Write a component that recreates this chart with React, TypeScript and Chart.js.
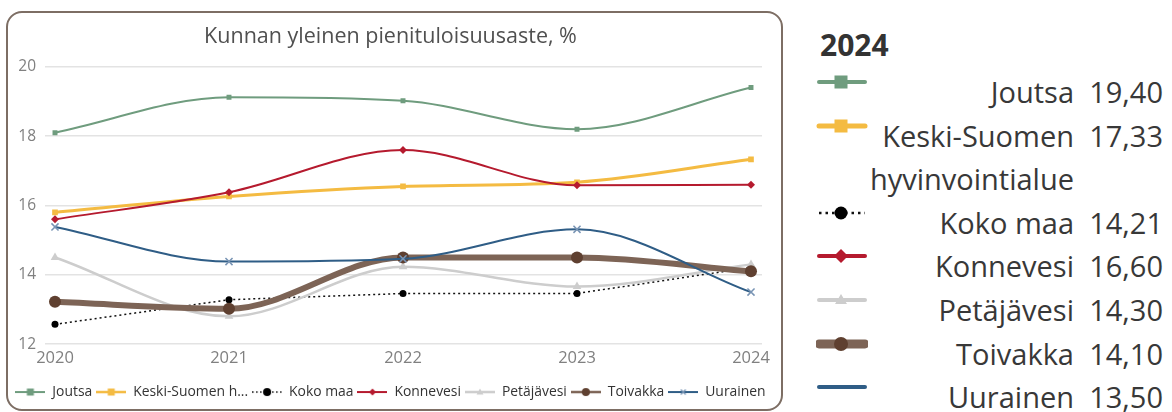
import React, { useEffect, useRef } from "react";
import { Chart, registerables } from "chart.js";

Chart.register(...registerables);

const FONT = "'Open Sans', sans-serif";

const title = "Kunnan yleinen pienituloisuusaste, %";
const years = [2020, 2021, 2022, 2023, 2024];
const yTicks = [12, 14, 16, 18, 20];

const seriesNames = [
  "Joutsa",
  "Keski-Suomen hyvinvointialue",
  "Koko maa",
  "Konnevesi",
  "Petäjävesi",
  "Toivakka",
  "Uurainen",
];
const legendNames = [
  "Joutsa",
  "Keski-Suomen h...",
  "Koko maa",
  "Konnevesi",
  "Petäjävesi",
  "Toivakka",
  "Uurainen",
];

const joutsa = [18.1, 19.12, 19.02, 18.2, 19.4];
const keskiSuomi = [15.8, 16.26, 16.55, 16.67, 17.33];
const kokoMaa = [12.57, 13.28, 13.46, 13.46, 14.21];
const konnevesi = [15.6, 16.38, 17.6, 16.58, 16.6];
const petajavesi = [14.5, 12.8, 14.23, 13.66, 14.3];
const toivakka = [13.22, 13.02, 14.5, 14.5, 14.1];
const uurainen = [15.38, 14.38, 14.46, 15.31, 13.5];

const seriesValues = [joutsa, keskiSuomi, kokoMaa, konnevesi, petajavesi, toivakka, uurainen];

const summaryYear = "2024";
const summaryValues = ["19,40", "17,33", "14,21", "16,60", "14,30", "14,10", "13,50"];

type Style = {
  color: string;
  pointColor: string;
  width: number;
  dash?: number[];
  point: string;
  radius: number;
  smooth: boolean;
};

const styles: Style[] = [
  { color: "#6f9c7e", pointColor: "#6f9c7e", width: 2, point: "rect", radius: 3.5, smooth: true },
  { color: "#f4bb42", pointColor: "#f4bb42", width: 3, point: "rect", radius: 4, smooth: true },
  { color: "#111111", pointColor: "#000000", width: 1.5, dash: [2, 3], point: "circle", radius: 3.5, smooth: false },
  { color: "#b51a2e", pointColor: "#b51a2e", width: 2, point: "rectRot", radius: 4, smooth: true },
  { color: "#cdcdcd", pointColor: "#cdcdcd", width: 2.5, point: "triangle", radius: 5, smooth: true },
  { color: "#7d6456", pointColor: "#5f4030", width: 6, point: "circle", radius: 6, smooth: true },
  { color: "#2f5d86", pointColor: "#7894b4", width: 2, point: "crossRot", radius: 5, smooth: true },
];

function drawMarker(ctx: CanvasRenderingContext2D, kind: string, x: number, y: number, r: number, color: string) {
  ctx.fillStyle = color;
  ctx.strokeStyle = color;
  ctx.setLineDash([]);
  ctx.beginPath();
  if (kind === "rect") {
    ctx.rect(x - r, y - r, 2 * r, 2 * r);
    ctx.fill();
  } else if (kind === "circle") {
    ctx.arc(x, y, r, 0, Math.PI * 2);
    ctx.fill();
  } else if (kind === "rectRot") {
    ctx.moveTo(x, y - r);
    ctx.lineTo(x + r, y);
    ctx.lineTo(x, y + r);
    ctx.lineTo(x - r, y);
    ctx.closePath();
    ctx.fill();
  } else if (kind === "triangle") {
    ctx.moveTo(x, y - r);
    ctx.lineTo(x + r, y + r * 0.7);
    ctx.lineTo(x - r, y + r * 0.7);
    ctx.closePath();
    ctx.fill();
  } else if (kind === "crossRot") {
    ctx.lineWidth = 1.3;
    ctx.moveTo(x - r * 0.7, y - r * 0.7);
    ctx.lineTo(x + r * 0.7, y + r * 0.7);
    ctx.moveTo(x + r * 0.7, y - r * 0.7);
    ctx.lineTo(x - r * 0.7, y + r * 0.7);
    ctx.stroke();
  }
}

function legendIcon(s: Style): HTMLCanvasElement {
  const c = document.createElement("canvas");
  c.width = 30;
  c.height = 14;
  const ctx = c.getContext("2d")!;
  ctx.strokeStyle = s.color;
  ctx.lineWidth = Math.min(s.width, 2.5);
  ctx.setLineDash(s.dash ? [1.5, 2.5] : []);
  ctx.beginPath();
  ctx.moveTo(0, 7);
  ctx.lineTo(30, 7);
  ctx.stroke();
  drawMarker(ctx, s.point, 15, 7, s.point === "circle" ? 4 : 3.5, s.pointColor);
  return c;
}

function SideIcon({ s }: { s: Style }) {
  const y = 8;
  const thick = s.width > 4 ? 9 : s.width > 2.5 ? 5 : 4;
  let marker: React.ReactNode = null;
  if (s.point === "rect") marker = <rect x={25 - 6.5} y={y - 6.5} width={13} height={13} fill={s.pointColor} />;
  else if (s.point === "circle")
    marker = <circle cx={25} cy={y} r={s.width > 4 ? 7 : 6.5} fill={s.pointColor} />;
  else if (s.point === "rectRot")
    marker = <polygon points={`25,${y - 7} 32,${y} 25,${y + 7} 18,${y}`} fill={s.pointColor} />;
  else if (s.point === "triangle")
    marker = <polygon points={`25,${y - 6} 31,${y + 4} 19,${y + 4}`} fill={s.pointColor} />;
  return (
    <svg width={52} height={16} style={{ display: "block" }}>
      <line
        x1={3}
        y1={y}
        x2={49}
        y2={y}
        stroke={s.color}
        strokeWidth={s.dash ? 2.5 : thick}
        strokeLinecap={s.dash ? "butt" : "round"}
        strokeDasharray={s.dash ? "2.5 4" : undefined}
      />
      {marker}
    </svg>
  );
}

function LineChart() {
  const ref = useRef<HTMLCanvasElement | null>(null);
  useEffect(() => {
    if (!ref.current) return;
    const n = seriesNames.length;
    const icons = styles.map(legendIcon);
    const chart = new Chart(ref.current, {
      type: "line",
      data: {
        datasets: seriesNames.map((name, i) => {
          const s = styles[i];
          return {
            label: name,
            data: years.map((x, j) => ({ x, y: seriesValues[i][j] })),
            borderColor: s.color,
            backgroundColor: s.pointColor,
            pointBackgroundColor: s.pointColor,
            pointBorderColor: s.pointColor,
            pointBorderWidth: s.point === "crossRot" ? 1.5 : 0,
            pointStyle: s.point as any,
            pointRadius: s.radius,
            borderWidth: s.width,
            borderDash: s.dash || [],
            cubicInterpolationMode: s.smooth ? "monotone" : "default",
            tension: 0,
            order: n - i,
            fill: false,
          } as any;
        }),
      },
      options: {
        animation: false,
        responsive: true,
        maintainAspectRatio: false,
        layout: { padding: { left: 0, right: 8, top: 0, bottom: 0 } },
        plugins: {
          title: {
            display: true,
            text: title,
            color: "#505050",
            font: { family: FONT, size: 21.5, weight: "normal" as any },
            padding: { top: 11, bottom: 17 },
          },
          legend: {
            position: "bottom",
            labels: {
              usePointStyle: true,
              pointStyleWidth: 30,
              boxHeight: 13,
              padding: 4,
              color: "#333333",
              font: { family: FONT, size: 13.9 },
              generateLabels: () =>
                legendNames.map((t, i) => ({
                  text: t,
                  datasetIndex: i,
                  pointStyle: icons[i] as any,
                  fillStyle: styles[i].color,
                  strokeStyle: styles[i].color,
                  lineWidth: 0,
                  fontColor: "#333333",
                  hidden: false,
                })),
            },
          },
          tooltip: { enabled: false },
        },
        scales: {
          x: {
            type: "linear",
            min: 2020 - 10 / 174,
            max: 2024 + 11 / 174,
            grid: { display: false, drawTicks: false },
            border: { display: false },
            afterFit: (scale: any) => {
              scale.height = 37;
            },
            afterBuildTicks: (scale: any) => {
              scale.ticks = years.map((v) => ({ value: v }));
            },
            ticks: {
              padding: 4,
              color: "#808080",
              font: { family: FONT, size: 16.5 },
              autoSkip: false,
              maxRotation: 0,
              callback: (v: any) => String(v),
            },
          },
          y: {
            min: 12,
            max: 20,
            afterFit: (scale: any) => {
              scale.width = 37;
            },
            afterBuildTicks: (scale: any) => {
              scale.ticks = yTicks.map((v) => ({ value: v }));
            },
            grid: { color: "#e3e3e3", lineWidth: 1.5, drawTicks: false },
            border: { display: false },
            ticks: {
              padding: 9,
              color: "#808080",
              font: { family: FONT, size: 15.5 },
            },
          },
          yRight: {
            position: "right",
            min: 12,
            max: 20,
            afterFit: (scale: any) => {
              scale.width = 11;
            },
            grid: { display: false, drawTicks: false },
            border: { display: false },
            ticks: { display: false },
          },
        },
      } as any,
    });
    return () => chart.destroy();
  }, []);
  return <canvas ref={ref} />;
}

export default function App() {
  const textStyle: React.CSSProperties = {
    fontFamily: FONT,
    fontSize: 29,
    color: "#383838",
    lineHeight: "43.6px",
    whiteSpace: "normal",
  };
  return (
    <div style={{ position: "absolute", left: 0, top: 0, width: 1172, height: 412, overflow: "hidden", background: "#fff" }}>
      <div
        style={{
          position: "absolute",
          left: 6,
          top: 11,
          width: 777,
          height: 400,
          boxSizing: "border-box",
          border: "2px solid #7d6e64",
          borderRadius: 16,
          overflow: "hidden",
        }}
      >
        <div style={{ position: "relative", width: 773, height: 396 }}>
          <LineChart />
        </div>
      </div>
      <div
        style={{
          position: "absolute",
          left: 820,
          top: 25,
          fontFamily: FONT,
          fontWeight: 700,
          fontSize: 30,
          lineHeight: "40px",
          color: "#333",
        }}
      >
        {summaryYear}
      </div>
      <div style={{ position: "absolute", left: 816, top: 70, width: 356 }}>
        {seriesNames.map((name, i) => (
          <div key={name} style={{ display: "flex", alignItems: "flex-start" }}>
            <div style={{ width: 52, flex: "none", paddingTop: 4 }}>
              <SideIcon s={styles[i]} />
            </div>
            <div style={{ ...textStyle, width: 206, flex: "none", textAlign: "right" }}>{name}</div>
            <div style={{ ...textStyle, width: 89, flex: "none", textAlign: "right" }}>{summaryValues[i]}</div>
          </div>
        ))}
      </div>
    </div>
  );
}
